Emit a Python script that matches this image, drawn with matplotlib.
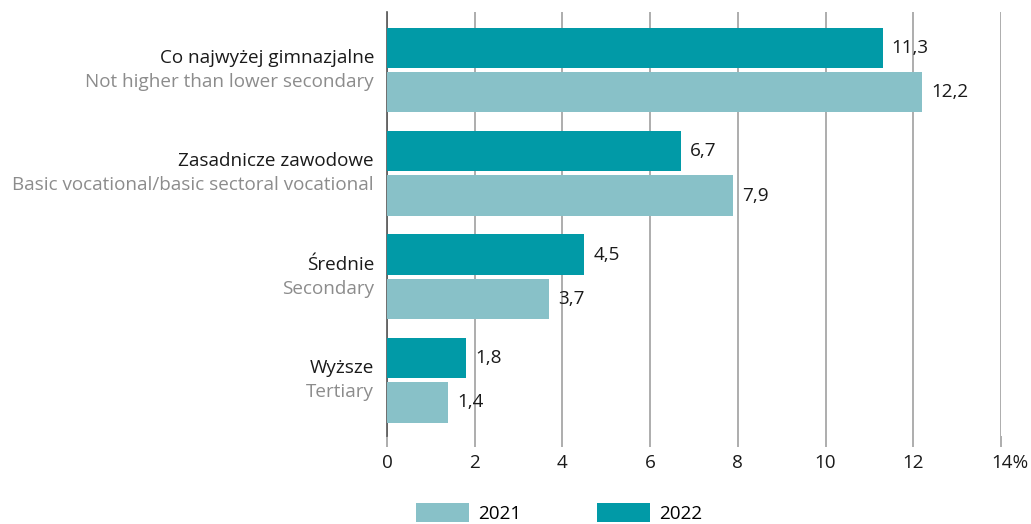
import matplotlib
matplotlib.use("Agg")
import matplotlib.pyplot as plt
import matplotlib.transforms as mtransforms
import numpy as np

categories_pl = ["Co najwyżej gimnazjalne", "Zasadnicze zawodowe", "Średnie", "Wyższe"]
categories_en = ["Not higher than lower secondary", "Basic vocational/basic sectoral vocational",
                 "Secondary", "Tertiary"]
values_2021 = [12.2, 7.9, 3.7, 1.4]
values_2022 = [11.3, 6.7, 4.5, 1.8]
xticks = [0, 2, 4, 6, 8, 10, 12, 14]
xtick_labels = ["0", "2", "4", "6", "8", "10", "12", "14%"]

c2021 = "#88C1C8"
c2022 = "#019AA7"
grey = "#8C8C8C"
fs = 13.6

plt.rcParams['font.family'] = ['Open Sans', 'DejaVu Sans']

fig = plt.figure(figsize=(10.31, 5.24), dpi=100)
ax = fig.add_axes([387/1031, 1-436/524, 614/1031, 424/524])

y = np.arange(len(categories_pl))
h = 0.39
off = 0.215
b22 = ax.barh(y - off, values_2022, height=h, color=c2022, label="2022", zorder=3)
b21 = ax.barh(y + off, values_2021, height=h, color=c2021, label="2021", zorder=3)

fmt = lambda v: f"{v:.1f}".replace(".", ",")
for bars, vals in ((b22, values_2022), (b21, values_2021)):
    for bar, v in zip(bars, vals):
        ax.annotate(fmt(v), (v, bar.get_y() + bar.get_height()/2), xytext=(6.5, 0),
                    textcoords="offset points", va="center", ha="left", fontsize=fs, color="#1a1a1a")

ax.set_xlim(0, 14)
ax.set_ylim(3.54, -0.56)
ax.set_xticks(xticks)
ax.set_xticklabels(xtick_labels, fontsize=fs, color="#1a1a1a")
ax.set_yticks([])
ax.grid(axis="x", color="#A0A0A0", linewidth=1.2, zorder=0)
for s in ("top", "right", "bottom"):
    ax.spines[s].set_visible(False)
ax.spines["left"].set_color("#555555")
ax.spines["left"].set_linewidth(1.2)
ax.tick_params(axis="x", length=8, color="#A0A0A0", width=1.2, pad=5)
last = ax.get_xticklabels()[-1]
last.set_transform(last.get_transform() + mtransforms.ScaledTranslation(9/100, 0, fig.dpi_scale_trans))

trans = mtransforms.blended_transform_factory(ax.transAxes, ax.transData)
for i in range(len(categories_pl)):
    ax.text(-13/614, i - 0.115, categories_pl[i], transform=trans, ha="right", va="center",
            fontsize=fs, color="#1a1a1a")
    ax.text(-13/614, i + 0.117, categories_en[i], transform=trans, ha="right", va="center",
            fontsize=fs, color=grey)

fig.legend(handles=[b21, b22], labels=["2021", "2022"], loc="lower center",
           bbox_to_anchor=(559/1031, 1/524), ncol=2, frameon=False, fontsize=fs,
           handlelength=2.8, handleheight=1.15, columnspacing=4.0, handletextpad=0.5,
           borderpad=0, borderaxespad=0)

fig.savefig("out.png", dpi=100)
